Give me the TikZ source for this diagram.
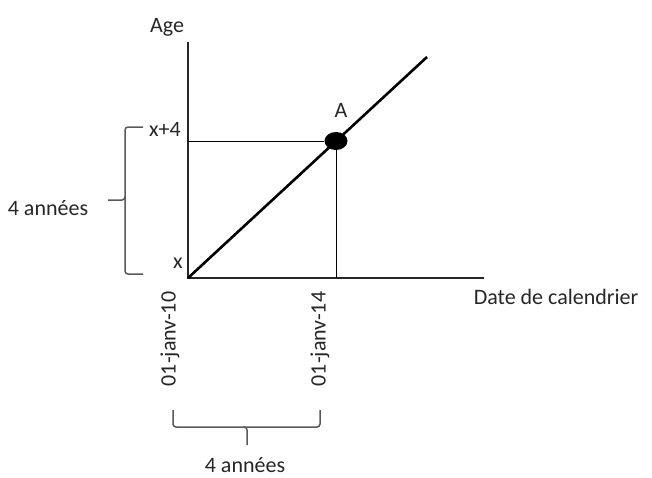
\documentclass[tikz,border=0pt]{standalone}
\usepackage{fontspec}
\setmainfont{Carlito}
\usetikzlibrary{shapes.geometric}
\begin{document}
\begin{tikzpicture}[x=1pt,y=-1pt,
  lbl/.style={inner sep=0pt,font=\fontsize{22}{25}\selectfont,text=black!85},
  axis/.style={line width=1.4pt,black!85},
  thin/.style={line width=1pt,black},
  brace/.style={line width=1.5pt,black!65,rounded corners=3pt}]
\useasboundingbox (0,0) rectangle (652,477);
\coordinate (O) at (188,278);
\coordinate (ytop) at (188,42);
\coordinate (xend) at (484,278);
\coordinate (dend) at (427,57);
\coordinate (tick) at (336,278);
\coordinate (yl) at (188,141);
\draw[axis] (ytop) -- (O) -- (xend);
\draw[line width=2.6pt,black] (O) -- (dend);
\node[ellipse,fill=black,minimum width=23pt,minimum height=18pt,inner sep=0pt] (A) at (336,141) {};
\draw[thin] (yl) -- (A.west);
\draw[thin] (A.south) -- (tick);
\node[lbl] (Alab) at (341,110) {A};
\node[lbl] (age) at (167,27) {Age};
\node[lbl] (x4) at (165,129) {x+4};
\node[lbl] (x0) at (178,263) {x};
\node[lbl] (date) at (556,297) {Date de calendrier};
\node[lbl,rotate=90] (d10) at (170,339) {01-janv-10};
\node[lbl,rotate=90] (d14) at (320,339) {01-janv-14};
\node[lbl] (ya) at (48,208) {4 années};
\node[lbl] (xa) at (245,465) {4 années};
\coordinate (b1) at (143,127);
\coordinate (b2) at (143,274);
\draw[brace] (b1) -- (125,127) -- (125,200) -- (108,200);
\draw[brace] (125,196) -- (125,274) -- (b2);
\coordinate (c1) at (173,410);
\coordinate (c2) at (320,410);
\draw[brace] (c1) -- (173,427) -- (247,427) -- (247,445);
\draw[brace] (243,427) -- (320,427) -- (c2);
\end{tikzpicture}
\end{document}
